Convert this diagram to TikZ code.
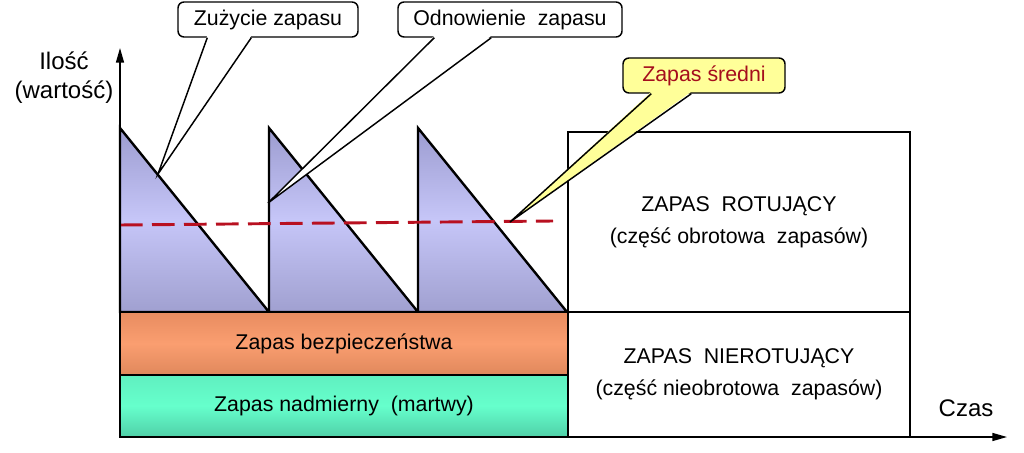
\documentclass[tikz,border=0pt]{standalone}
\usepackage{fontspec}
\setmainfont{Liberation Sans}
\usetikzlibrary{arrows.meta, calc}
\definecolor{lavTop}{HTML}{9C9CD0}
\definecolor{lavMid}{HTML}{C6C6F8}
\definecolor{lavBot}{HTML}{A0A0D0}
\definecolor{orTop}{HTML}{E88C60}
\definecolor{orMid}{HTML}{FA9E70}
\definecolor{orBot}{HTML}{E0885C}
\definecolor{grTop}{HTML}{60F0C0}
\definecolor{grMid}{HTML}{66FFCC}
\definecolor{grBot}{HTML}{50D0A8}
\definecolor{avgRed}{HTML}{B81020}
\definecolor{noteYel}{HTML}{FFFF99}

\begin{document}
\begin{tikzpicture}[
    x=0.75pt, y=-0.75pt,
    font=\fontsize{16}{24}\selectfont,
    tri/.style={draw=black, line width=1.8pt, line join=miter,
        top color=lavTop, bottom color=lavBot, middle color=lavMid},
    band/.style={draw=black, line width=2pt, minimum width=336pt, inner sep=0pt},
    part/.style={draw=black, line width=1.1pt, minimum width=256.5pt,
        inner sep=0pt, align=center},
    note/.style={draw=black, line width=1.1pt, rounded corners=4.5pt, fill=white,
        minimum height=26.25pt, inner sep=0pt},
    ptr/.style={line width=1.1pt},
    axis/.style={line width=1.1pt, -{Triangle[length=11pt, width=6pt]}},
    axlab/.style={font=\fontsize{18}{21.75}\selectfont, align=center},
    avg/.style={draw=avgRed, line width=2.2pt, dash pattern=on 17pt off 7pt}
]
\useasboundingbox (0,0) rectangle (1024,453);

% ===== CYCLES (saw teeth) =====
\foreach \x in {120,269,418}
    \path[tri] (\x,312) -- (\x,128) -- ++(149,184) -- cycle;

% ===== STOCK BANDS (left) =====
\node[band, minimum height=47.25pt, top color=orTop, bottom color=orBot,
      middle color=orMid] (bez) at (344,343.5) {Zapas bezpieczeństwa};
\node[band, minimum height=46.5pt, top color=grTop, bottom color=grBot,
      middle color=grMid] (nad) at (344,406) {Zapas nadmierny\ \ (martwy)};

% ===== PARTS (right) =====
\node[part, minimum height=135pt] (rot) at (739,222)
    {ZAPAS\ \ ROTUJĄCY\\(część obrotowa\ \ zapasów)};
\node[part, minimum height=93.75pt] (nrot) at (739,374.5)
    {ZAPAS\ \ NIEROTUJĄCY\\(część nieobrotowa\ \ zapasów)};

% ===== AVERAGE =====
\coordinate (avgA) at (120,225);
\coordinate (avgB) at (553,221);
\draw[avg] (avgA) -- (avgB);

% ===== AXES =====
\coordinate (O) at (120,437);
\draw[axis] (O) -- (1007,437);
\draw[axis] (O) -- (120,48);
\node[axlab] (ilosc) at (64,78) {Ilość\\(wartość)};
\node[axlab] (czas) at (966,408) {Czas};

% ===== CALLOUTS =====
\node[note, minimum width=135pt] (zuz) at (268,19.5) {Zużycie\ zapasu};
\coordinate (zuzTip) at (158,174);
\fill[white] ($(zuz.south west)+(30,-2)$) -- (zuzTip) -- ($(zuz.south west)+(74,-2)$) -- cycle;
\draw[ptr] ($(zuz.south west)+(30,0)$) -- (zuzTip) -- ($(zuz.south west)+(74,0)$);

\node[note, minimum width=168pt] (odn) at (510,19.5) {Odnowienie\ \ zapasu};
\coordinate (odnTip) at (268,203);
\fill[white] ($(odn.south west)+(37,-2)$) -- (odnTip) -- ($(odn.south west)+(94,-2)$) -- cycle;
\draw[ptr] ($(odn.south west)+(37,0)$) -- (odnTip) -- ($(odn.south west)+(94,0)$);

\node[note, fill=noteYel, text=avgRed!90!black, minimum width=121.5pt] (sre) at (704,75.5)
    {Zapas średni};
\coordinate (sreTip) at (510,222);
\fill[noteYel] ($(sre.south west)+(29,-2)$) -- (sreTip) -- ($(sre.south west)+(69,-2)$) -- cycle;
\draw[ptr] ($(sre.south west)+(29,0)$) -- (sreTip) -- ($(sre.south west)+(69,0)$);
\end{tikzpicture}
\end{document}
